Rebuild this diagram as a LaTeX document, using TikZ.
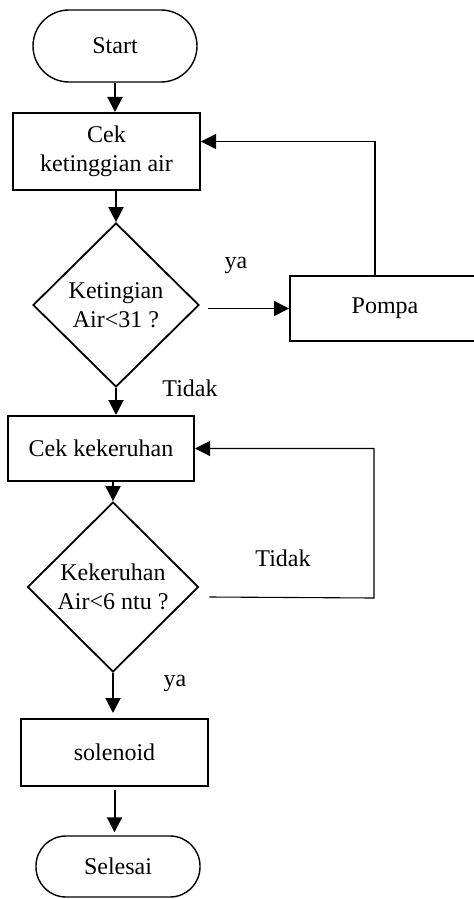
\documentclass[tikz,border=0pt]{standalone}
\usepackage{fontspec}
\setmainfont{Liberation Serif}
\usetikzlibrary{shapes.geometric,arrows.meta}

\tikzset{
  terminal/.style={draw, line width=0.7pt, minimum width=82pt, font=\fontsize{12}{14.5}\selectfont},
  proses/.style={draw, line width=1pt, align=center, inner sep=0pt, font=\fontsize{12}{14.5}\selectfont},
  keputusan/.style={draw, diamond, aspect=1, line width=0.9pt, align=center, inner sep=0pt, font=\fontsize{12}{14.5}\selectfont},
  label/.style={inner sep=0pt, font=\fontsize{12}{14.5}\selectfont},
  >={Triangle[length=7.5pt,width=7.5pt]}
}

\begin{document}
\begin{tikzpicture}[x=0.5pt,y=-0.5pt]
  \useasboundingbox (0,0) rectangle (473,899);

  \node[terminal, minimum height=36pt, rounded corners=18pt] (start) at (115,46) {Start};
  \node[proses, minimum width=93.5pt, minimum height=38.5pt] (cekair) at (106.5,151.5) {Cek\\ketinggian air};
  \node[keputusan, minimum width=83pt, minimum height=82pt] (tanya1) at (116,305) {Ketingian\\Air<31 ?};
  \node[proses, minimum width=95pt, minimum height=32.5pt] (pompa) at (385,308.5) {Pompa};
  \node[proses, minimum width=93pt, minimum height=32.5pt] (cekkeruh) at (101,448.5) {Cek kekeruhan};
  \node[keputusan, minimum width=85.5pt, minimum height=85pt] (tanya2) at (113,587) {Kekeruhan\\Air<6 ntu ?};
  \node[proses, minimum width=93.5pt, minimum height=33.5pt] (solenoid) at (114.5,752.5) {solenoid};
  \node[terminal, minimum height=30.5pt, rounded corners=15pt] (selesai) at (118,866.5) {Selesai};

  \node[label] (ya1) at (236,265) {ya};
  \node[label] (tidak1) at (190,388) {Tidak};
  \node[label] (tidak2) at (283,558) {Tidak};
  \node[label] (ya2) at (175,683) {ya};

  \coordinate (balik) at (374,598);

  \path[->, line width=1pt]
  (start.south) edge (start.south |- cekair.north)
  (tanya1.north |- cekair.south) edge (tanya1.north)
  (tanya1.south) edge (tanya1.south |- cekkeruh.north)
  (pompa.west -| tanya1.east) edge [shorten <=4pt, line width=0.9pt] (pompa.west)
  (tanya2.north |- cekkeruh.south) edge (tanya2.north)
  (tanya2.south) edge [shorten >=2.5pt] (tanya2.south |- solenoid.north)
  (solenoid.south) edge [shorten <=1.5pt, shorten >=1.5pt] (solenoid.south |- selesai.north)
  ;

  \draw[->, line width=0.55pt] ([xshift=-5pt]pompa.north) |- ([yshift=5pt]cekair.east);
  \draw[->, line width=0.55pt] ([shift={(5pt,-5pt)}]tanya2.east) -- (balik) |- (cekkeruh.east);
\end{tikzpicture}
\end{document}
